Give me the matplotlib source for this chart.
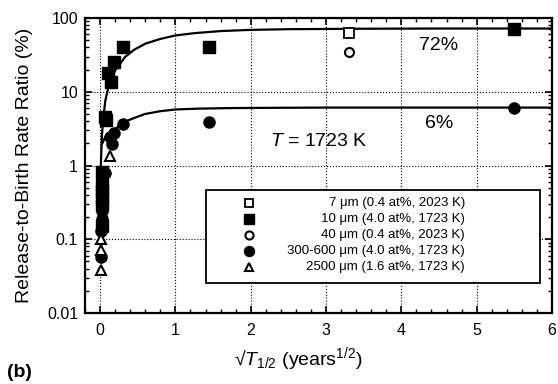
import numpy as np
import matplotlib
matplotlib.use("Agg")
import matplotlib.pyplot as plt
from matplotlib.ticker import MultipleLocator, LogLocator, NullFormatter, FuncFormatter

plt.rcParams['font.family'] = ['Liberation Sans', 'DejaVu Sans']
plt.rcParams['mathtext.fontset'] = 'custom'
plt.rcParams['mathtext.rm'] = 'Liberation Sans'
plt.rcParams['mathtext.it'] = 'Liberation Sans:italic'

# 7 um (0.4 at%, 2023 K)
sq_open_x = [3.3]
sq_open_y = [62]
# 10 um (4.0 at%, 1723 K)
sq_fill_x = [0.02, 0.02, 0.02, 0.02, 0.02, 0.03, 0.06, 0.08, 0.11, 0.14, 0.19, 0.31, 1.44, 5.5]
sq_fill_y = [0.15, 0.29, 0.36, 0.45, 0.55, 0.81, 4.6, 4.2, 18, 13.5, 25, 40, 41, 70]
# 40 um (0.4 at%, 2023 K)
ci_open_x = [3.3]
ci_open_y = [35]
# 300-600 um (4.0 at%, 1723 K)
ci_fill_x = [0.01, 0.01, 0.02, 0.02, 0.07, 0.13, 0.16, 0.19, 0.30, 1.44, 5.5]
ci_fill_y = [0.058, 0.13, 0.19, 0.24, 0.8, 2.4, 1.95, 2.8, 3.6, 3.9, 6.0]
# 2500 um (1.6 at%, 1723 K)
tri_x = [0.01, 0.01, 0.01, 0.13]
tri_y = [0.038, 0.072, 0.10, 1.35]

# fitted curves
upper_x = [0.01, 0.025, 0.045, 0.07, 0.11, 0.2, 0.33, 0.45, 0.6, 0.8, 1.0, 1.26, 1.6, 2.0, 2.5, 3.45, 4.5, 6.0]
upper_y = [1.0, 2.6, 4.6, 7.6, 11.5, 19.4, 29.5, 37, 44.8, 52, 58, 62.4, 66.5, 69, 70.5, 71.5, 72, 72]
lower_x = [0.03, 0.06, 0.1, 0.15, 0.19, 0.25, 0.376, 0.5, 0.6, 0.8, 1.0, 1.3, 1.7, 2.2, 3.0, 6.0]
lower_y = [2.0, 2.35, 2.6, 2.85, 3.05, 3.45, 4.1, 4.6, 5.0, 5.45, 5.75, 5.9, 6.0, 6.05, 6.1, 6.1]

labels = ["7 \u03bcm (0.4 at%, 2023 K)", "10 \u03bcm (4.0 at%, 1723 K)", "40 \u03bcm (0.4 at%, 2023 K)",
          "300-600 \u03bcm (4.0 at%, 1723 K)", "2500 \u03bcm (1.6 at%, 1723 K)"]

W, H = 558, 384
L, R, T, B = 85, 552, 18, 313

fig = plt.figure(figsize=(W/100, H/100), dpi=100)
ax = fig.add_axes([L/W, 1-B/H, (R-L)/W, (B-T)/H])

ax.plot(upper_x, upper_y, color='k', lw=1.6, zorder=2)
ax.plot(lower_x, lower_y, color='k', lw=1.6, zorder=2)

h = []
h += ax.plot(sq_open_x, sq_open_y, 's', ms=6.5, mfc='white', mec='k', mew=1.3, zorder=3)
h += ax.plot(sq_fill_x, sq_fill_y, 's', ms=8, mfc='k', mec='k', zorder=3)
h += ax.plot(ci_open_x, ci_open_y, 'o', ms=6.5, mfc='white', mec='k', mew=1.5, zorder=3)
h += ax.plot(ci_fill_x, ci_fill_y, 'o', ms=8, mfc='k', mec='k', zorder=3)
h += ax.plot(tri_x, tri_y, '^', ms=6.5, mfc='white', mec='k', mew=1.5, zorder=3)

ax.set_yscale('log')
ax.set_xlim(-0.2, 6)
ax.set_ylim(0.01, 100)

ax.xaxis.set_major_locator(MultipleLocator(1))
ax.xaxis.set_minor_locator(MultipleLocator(0.2))
ax.yaxis.set_major_locator(LogLocator(base=10))
ax.yaxis.set_minor_locator(LogLocator(base=10, subs=np.arange(2, 10)))
ax.yaxis.set_minor_formatter(NullFormatter())
ax.yaxis.set_major_formatter(FuncFormatter(lambda v, p: '%g' % v))

ax.tick_params(which='both', direction='in', top=True, right=True, labelsize=11.5)
ax.tick_params(which='major', length=5, width=1.2)
ax.tick_params(which='minor', length=3, width=1.0)
ax.tick_params(axis='x', pad=7)
ax.tick_params(axis='y', pad=5)
for s in ax.spines.values():
    s.set_linewidth(1.6)

ax.grid(True, which='major', ls=':', color='k', lw=0.8)

ax.text(4.5, 43, '72%', fontsize=14, ha='center', va='center')
ax.text(4.5, 3.7, '6%', fontsize=14, ha='center', va='center')
ax.text(2.25, 2.1, '$T$ = 1723 K', fontsize=14, ha='left', va='center')

ax.set_ylabel('Release-to-Birth Rate Ratio (%)', fontsize=14, labelpad=10)
ax.set_xlabel('\u221a$T_{1/2}$ (years$^{1/2}$)', fontsize=14)
ax.xaxis.set_label_coords((298-L)/(R-L), -0.11)
fig.text(0.013, 0.03, '(b)', fontsize=14, fontweight='bold', va='center')

# legend: symbols from the library, labels right-aligned by hand
fs = 9.5
leg = ax.legend(h, [''] * 5, loc='upper left',
                bbox_to_anchor=((206-L)/(R-L), (B-189.5)/(B-T), (540-206)/(R-L), 0),
                mode='expand', borderaxespad=0, fontsize=fs, frameon=True, fancybox=False,
                edgecolor='k', framealpha=1, labelspacing=0.28, handlelength=5.2,
                handletextpad=0.5, borderpad=0.67, markerscale=0.9)
leg.get_frame().set_linewidth(1.3)
fig.canvas.draw()
renderer = fig.canvas.get_renderer()
x_right = fig.transFigure.transform(((465)/W, 0))[0]
for hd, lab in zip(leg.legend_handles, labels):
    bb = hd.get_window_extent(renderer)
    yc = (bb.y0 + bb.y1) / 2
    xa, ya = ax.transAxes.inverted().transform((x_right, yc))
    ax.text(xa, ya, lab, transform=ax.transAxes, fontsize=fs, ha='right', va='center', zorder=6)

fig.savefig('out.png', dpi=100)
